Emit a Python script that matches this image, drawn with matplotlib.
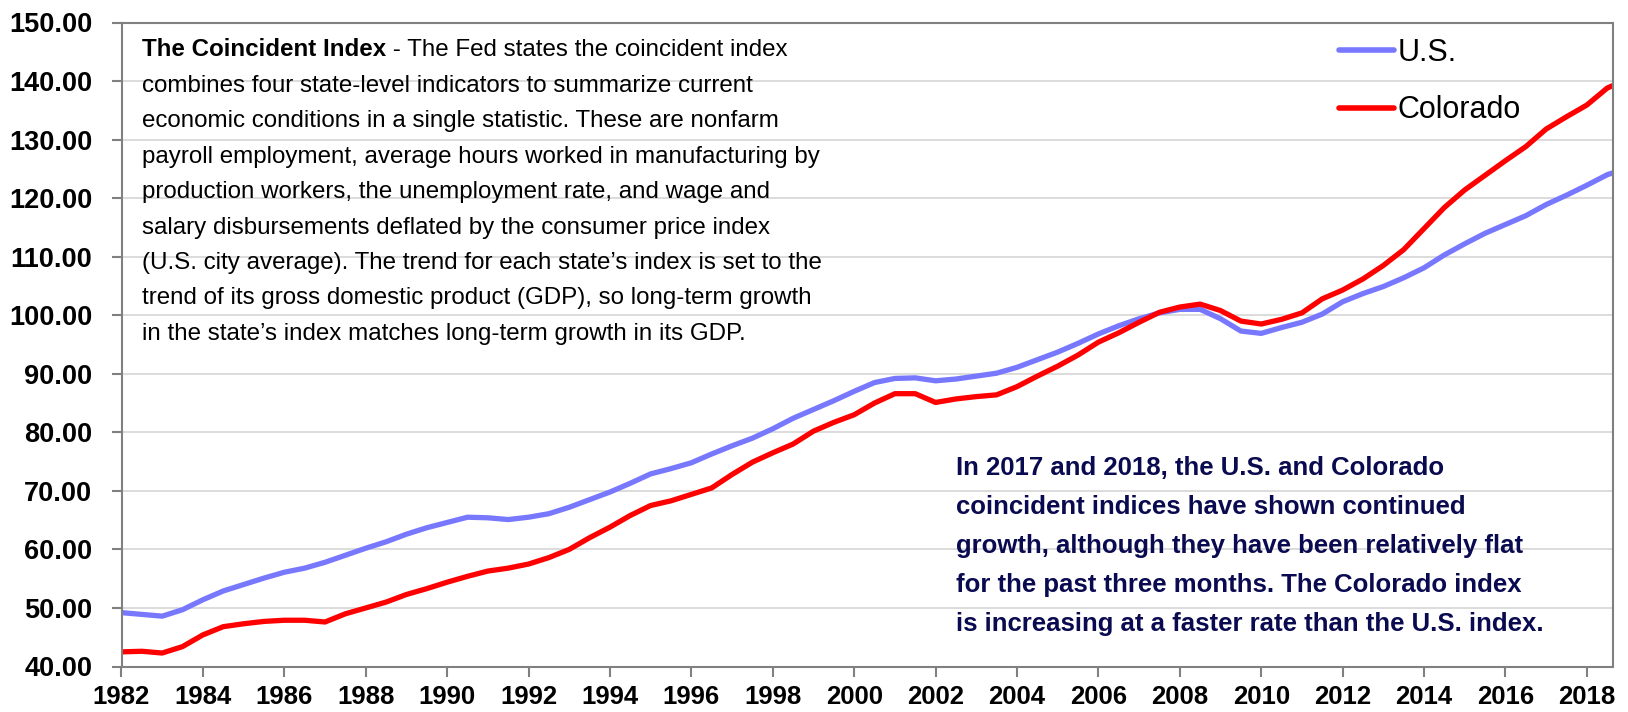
import numpy as np
import matplotlib
matplotlib.use("Agg")
import matplotlib.pyplot as plt

# ==== DATA (half-year steps) ====
years = [
    1982.0, 1982.5, 1983.0, 1983.5, 1984.0, 1984.5, 1985.0, 1985.5, 1986.0, 1986.5,
    1987.0, 1987.5, 1988.0, 1988.5, 1989.0, 1989.5, 1990.0, 1990.5, 1991.0, 1991.5,
    1992.0, 1992.5, 1993.0, 1993.5, 1994.0, 1994.5, 1995.0, 1995.5, 1996.0, 1996.5,
    1997.0, 1997.5, 1998.0, 1998.5, 1999.0, 1999.5, 2000.0, 2000.5, 2001.0, 2001.5,
    2002.0, 2002.5, 2003.0, 2003.5, 2004.0, 2004.5, 2005.0, 2005.5, 2006.0, 2006.5,
    2007.0, 2007.5, 2008.0, 2008.5, 2009.0, 2009.5, 2010.0, 2010.5, 2011.0, 2011.5,
    2012.0, 2012.5, 2013.0, 2013.5, 2014.0, 2014.5, 2015.0, 2015.5, 2016.0, 2016.5,
    2017.0, 2017.5, 2018.0, 2018.5, 2018.63,
]
us = [
    49.2, 48.9, 48.6, 49.7, 51.4, 52.9, 54.0, 55.1, 56.1, 56.8,
    57.8, 59.0, 60.2, 61.3, 62.6, 63.7, 64.6, 65.5, 65.4, 65.1,
    65.5, 66.1, 67.2, 68.5, 69.8, 71.3, 72.9, 73.8, 74.8, 76.3,
    77.7, 79.0, 80.6, 82.4, 83.9, 85.4, 87.0, 88.5, 89.2, 89.3,
    88.8, 89.1, 89.6, 90.1, 91.1, 92.4, 93.7, 95.2, 96.8, 98.2,
    99.4, 100.4, 101.0, 101.0, 99.4, 97.3, 96.9, 97.9, 98.8, 100.2,
    102.3, 103.7, 104.9, 106.4, 108.1, 110.3, 112.2, 114.0, 115.5, 117.0,
    118.9, 120.5, 122.2, 124.0, 124.3,
]
colorado = [
    42.5, 42.6, 42.3, 43.4, 45.4, 46.8, 47.3, 47.7, 47.9, 47.9,
    47.6, 49.0, 50.0, 51.0, 52.3, 53.3, 54.4, 55.4, 56.3, 56.8,
    57.5, 58.6, 60.0, 62.0, 63.8, 65.8, 67.5, 68.3, 69.4, 70.5,
    72.8, 74.9, 76.5, 78.0, 80.2, 81.7, 83.0, 85.0, 86.6, 86.6,
    85.1, 85.7, 86.1, 86.4, 87.8, 89.6, 91.3, 93.2, 95.4, 97.0,
    98.8, 100.5, 101.4, 101.9, 100.8, 99.0, 98.5, 99.3, 100.4, 102.8,
    104.3, 106.2, 108.5, 111.2, 114.8, 118.4, 121.4, 123.9, 126.4, 128.8,
    131.8, 133.9, 135.9, 138.8, 139.2,
]
x_ticks = list(range(1982, 2019, 2))
y_ticks = list(range(40, 151, 10))

note_title = "The Coincident Index"
note_first = " - The Fed states the coincident index"
note_lines = [
    "combines four state-level indicators to summarize current",
    "economic conditions in a single statistic. These are nonfarm",
    "payroll employment, average hours worked in manufacturing by",
    "production workers, the unemployment rate, and wage and",
    "salary disbursements deflated by the consumer price index",
    "(U.S. city average). The trend for each state\u2019s index is set to the",
    "trend of its gross domestic product (GDP), so long-term growth",
    "in the state\u2019s index matches long-term growth in its GDP.",
]
comment_lines = [
    "In 2017 and 2018, the U.S. and Colorado",
    "coincident indices have shown continued",
    "growth, although they have been relatively flat",
    "for the past three months. The Colorado index",
    "is increasing at a faster rate than the U.S. index.",
]

# ==== STYLE ====
FONT = ["Liberation Sans", "DejaVu Sans"]
US_COLOR = "#7878FF"
CO_COLOR = "#FF0000"
AX_GRAY = "#808080"
NAVY = "#0A0A50"

W, H = 1628, 712
fig = plt.figure(figsize=(W / 100, H / 100), dpi=100)
ax = fig.add_axes([121.5 / W, 1 - 666.5 / H, (1612.5 - 121.5) / W, (666.5 - 22.5) / H])

ax.plot(years, us, color=US_COLOR, lw=3.8, label="U.S.", solid_capstyle="round")
ax.plot(years, colorado, color=CO_COLOR, lw=3.8, label="Colorado", solid_capstyle="round")

ax.set_xlim(1982, 2018.63)
ax.set_ylim(40, 150)
ax.set_xticks(x_ticks)
ax.set_yticks(y_ticks)
ax.set_xticklabels([str(t) for t in x_ticks], family=FONT, fontweight="bold", fontsize=18.5)
ax.set_yticklabels([f"{t:.2f}" for t in y_ticks], family=FONT, fontweight="bold", fontsize=19.5)
ax.tick_params(axis="x", direction="out", length=7, width=1.5, color=AX_GRAY, pad=6)
ax.tick_params(axis="y", direction="out", length=7, width=1.5, color=AX_GRAY, pad=14)
ax.grid(True, axis="y", color="#D9D9D9", lw=1.3)
ax.set_axisbelow(True)
for sp in ax.spines.values():
    sp.set_color(AX_GRAY)
    sp.set_linewidth(1.5)

leg = ax.legend(
    loc="upper right",
    bbox_to_anchor=(0.949, 1.0),
    frameon=False,
    prop={"family": FONT, "size": 22},
    handlelength=1.8,
    handletextpad=0.12,
    labelspacing=0.9,
    borderaxespad=0.05,
    borderpad=0.45,
)
for h in leg.get_lines():
    h.set_linewidth(4)
    h.set_solid_capstyle("round")

# top-left note
x0 = 142 / W
y0 = 1 - 50 / H
dy = 35.5 / H
t1 = fig.text(x0, y0, note_title, family=FONT, fontweight="bold", fontsize=17.4, va="center")
ax.annotate(note_first, xy=(1, 0), xycoords=t1, va="bottom", ha="left",
            family=FONT, fontsize=17.4)
for i, line in enumerate(note_lines, start=1):
    fig.text(x0, y0 - i * dy, line, family=FONT, fontsize=17.4, va="center")

# bottom-right comment
cx = 956 / W
cy = 1 - 468 / H
cdy = 39 / H
for i, line in enumerate(comment_lines):
    fig.text(cx, cy - i * cdy, line, family=FONT, fontweight="bold", fontsize=18.5,
             va="center", color=NAVY)

fig.savefig("out.png", dpi=100)
